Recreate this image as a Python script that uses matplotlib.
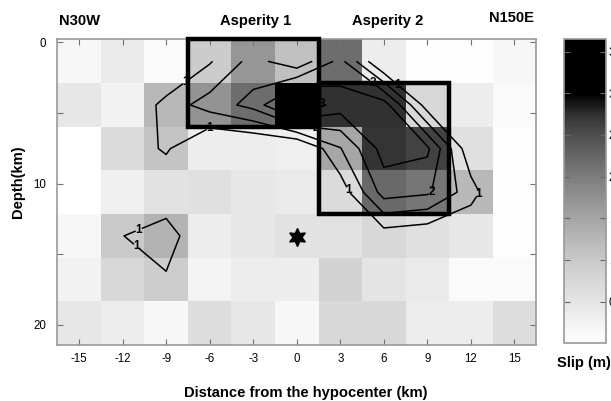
import numpy as np
import matplotlib
matplotlib.use("Agg")
import matplotlib.pyplot as plt
from matplotlib.colors import LinearSegmentedColormap
from matplotlib.patches import Rectangle

plt.rcParams['font.family'] = ['Liberation Sans', 'DejaVu Sans']

# ---------------- data ----------------
x_centers = [-15, -12, -9, -6, -3, 0, 3, 6, 9, 12, 15]          # km along strike
depth_centers = [1.345, 4.435, 7.525, 10.615, 13.705, 16.795, 19.885]  # km

slip_row0 = [0.15, 0.40, 0.10, 0.95, 1.69, 1.13, 2.17, 0.35, 0.05, 0.05, 0.15]
slip_row1 = [0.45, 0.25, 1.23, 1.72, 2.17, 3.50, 2.75, 2.75, 0.73, 0.35, 0.10]
slip_row2 = [0.00, 0.68, 1.07, 0.35, 0.35, 0.30, 1.47, 2.71, 2.60, 0.59, 0.05]
slip_row3 = [0.00, 0.30, 0.55, 0.59, 0.45, 0.40, 0.68, 2.22, 2.08, 1.23, 0.05]
slip_row4 = [0.15, 0.99, 1.30, 0.35, 0.45, 0.55, 0.55, 0.73, 0.59, 0.45, 0.05]
slip_row5 = [0.25, 0.73, 0.93, 0.20, 0.35, 0.35, 0.82, 0.50, 0.40, 0.10, 0.10]
slip_row6 = [0.45, 0.35, 0.15, 0.64, 0.45, 0.15, 0.73, 0.73, 0.35, 0.35, 0.64]
slip = np.array([slip_row0, slip_row1, slip_row2, slip_row3,
                 slip_row4, slip_row5, slip_row6])

contour_levels = [1, 1.5, 2, 2.5, 3]
cbar_ticks = [0.5, 1, 1.5, 2, 2.5, 3, 3.5]

asperity1_x = [-7.5, 1.5]
asperity1_depth = [-0.2, 5.98]
asperity2_x = [1.5, 10.5]
asperity2_depth = [2.89, 12.16]

hypocenter = (0.0, 13.8)

x_ticks = [-15, -12, -9, -6, -3, 0, 3, 6, 9, 12, 15]
y_ticks = [0, 5, 10, 15, 20]
y_ticklabels = ['0', '', '10', '', '20']

# label positions for contour annotations (near lines)
label_positions = {
    1: [(-7.7, 2.7), (-6.0, 6.1), (-11.0, 13.0), (-11.0, 14.4),
        (3.5, 10.5), (12.5, 10.7), (7.0, 2.9)],
    2: [(9.3, 10.6), (5.2, 2.9), (1.3, 6.1)],
    3: [(1.7, 4.4)],
}


def edges(c):
    c = np.asarray(c, float)
    mid = (c[:-1] + c[1:]) / 2
    return np.concatenate([[c[0] - (c[1] - c[0]) / 2], mid,
                           [c[-1] + (c[-1] - c[-2]) / 2]])


vmax = 3.65
nodes = [(0.0, 1.0), (0.5, 0.895), (1.0, 0.79), (1.5, 0.645), (2.0, 0.49),
         (2.5, 0.31), (2.75, 0.19), (2.95, 0.03), (3.0, 0.0), (vmax, 0.0)]
cmap = LinearSegmentedColormap.from_list(
    'slipgray', [(v / vmax, (g, g, g)) for v, g in nodes])

# ---------------- figure ----------------
fig = plt.figure(figsize=(6.11, 4.01), dpi=100)
ax = fig.add_axes([0.0938, 0.1397, 0.7838, 0.7618])

xe = edges(x_centers)
ye = edges(depth_centers)
mesh = ax.pcolormesh(xe, ye, slip, cmap=cmap, vmin=0, vmax=vmax,
                     shading='flat')

for lev in contour_levels:
    cs = ax.contour(x_centers, depth_centers, slip, levels=[lev],
                    colors='k', linewidths=1.1)
    if lev in label_positions:
        texts = ax.clabel(cs, manual=label_positions[lev], fmt='%g',
                          fontsize=8.5, inline=True, inline_spacing=0)
        for t in texts:
            t.set_fontweight('bold')
            t.set_rotation(0)

for xs, ds in [(asperity1_x, asperity1_depth), (asperity2_x, asperity2_depth)]:
    ax.add_patch(Rectangle((xs[0], ds[0]), xs[1] - xs[0], ds[1] - ds[0],
                           fill=False, ec='k', lw=3.2, zorder=6,
                           clip_on=False, joinstyle='miter'))

ax.plot([hypocenter[0]], [hypocenter[1]], marker=(6, 1, 0), ms=13,
        color='k', zorder=7)

ax.set_xlim(xe[0], xe[-1])
ax.set_ylim(ye[-1], ye[0])
ax.set_xticks(x_ticks)
ax.set_xticklabels([str(v) for v in x_ticks])
ax.set_yticks(y_ticks)
ax.set_yticklabels(y_ticklabels)
ax.tick_params(direction='in', top=True, right=True, length=4,
               color='0.45', width=0.8, labelsize=8.3)
ax.tick_params(axis='x', pad=6)
ax.tick_params(axis='y', pad=8)
for s in ax.spines.values():
    s.set_edgecolor('0.6')
    s.set_linewidth(1.2)

# texts
tkw = dict(fontsize=10.6, fontweight='bold', va='center')
fig.text(58.5 / 611, 1 - 20.7 / 401, 'N30W', ha='left', **tkw)
fig.text(255.8 / 611, 1 - 21 / 401, 'Asperity 1', ha='center', **tkw)
fig.text(388 / 611, 1 - 21 / 401, 'Asperity 2', ha='center', **tkw)
fig.text(511.7 / 611, 1 - 18.5 / 401, 'N150E', ha='center', **tkw)
fig.text(18.3 / 611, 1 - 182 / 401, 'Depth(km)', ha='center',
         rotation=90, **tkw)
fig.text(306 / 611, 1 - 393 / 401, 'Distance from the hypocenter (km)',
         ha='center', **tkw)
fig.text(557 / 611, 1 - 363 / 401, 'Slip (m)', ha='left', **tkw)

# colorbar
cax = fig.add_axes([563.5 / 611, 1 - 343.3 / 401, 42.5 / 611, 304.3 / 401])
cb = fig.colorbar(mesh, cax=cax, ticks=cbar_ticks)
cb.ax.set_yticklabels(['%g' % t for t in cbar_ticks])
cb.ax.tick_params(direction='in', left=True, right=True, length=4,
                  color='0.4', labelsize=8.3, pad=2)
cb.outline.set_edgecolor('0.6')
cb.outline.set_linewidth(1.2)

fig.savefig('out.png', dpi=100)
